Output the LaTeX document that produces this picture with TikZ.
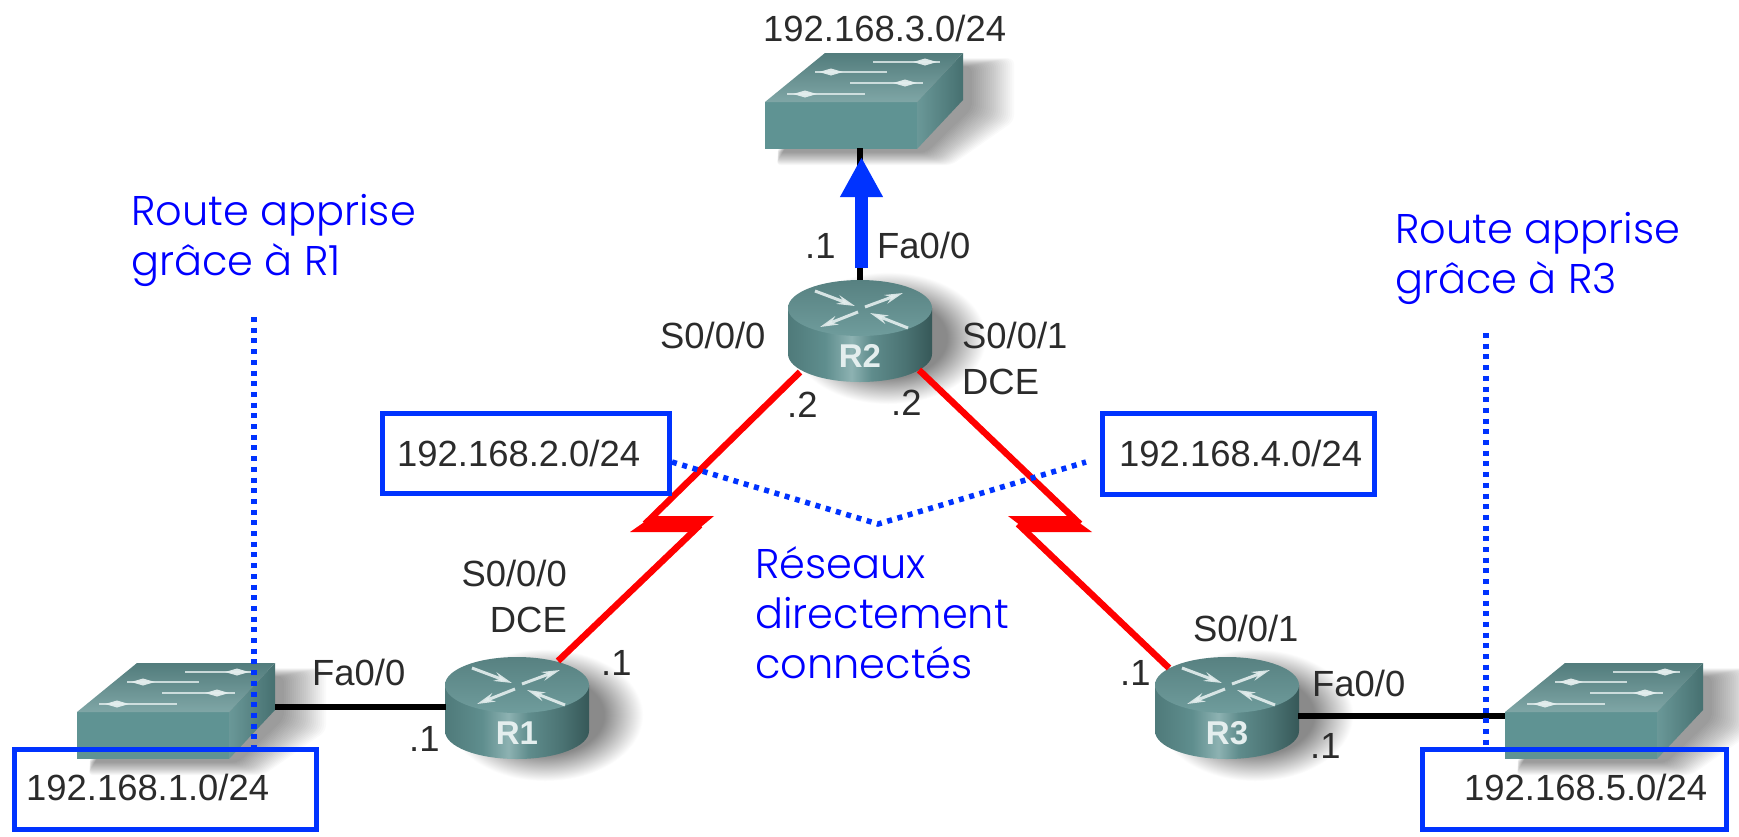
\documentclass[tikz,border=0pt]{standalone}
\usepackage{fontspec}
\setmainfont{Liberation Sans}
\newfontfamily\gothic{Poppins Light}
\usetikzlibrary{arrows.meta}
\definecolor{netblue}{HTML}{0033FF}
\definecolor{txtblue}{HTML}{0000FF}
\definecolor{netred}{HTML}{FF0000}
\definecolor{txtgray}{HTML}{2B2B2B}
\definecolor{swfront}{HTML}{5F9393}
\definecolor{swtopa}{HTML}{527C7C}
\definecolor{swtopb}{HTML}{7FA6A6}
\definecolor{swsidea}{HTML}{6A9898}
\definecolor{swsideb}{HTML}{467070}
\definecolor{rtopa}{HTML}{578181}
\definecolor{rtopb}{HTML}{6F9C9C}
\definecolor{glyph}{HTML}{E4EEEE}
\definecolor{rsa}{HTML}{4F7A7A}
\definecolor{rsb}{HTML}{5F8E8E}
\definecolor{rsc}{HTML}{8DB2B2}
\definecolor{rsd}{HTML}{5F8C8C}
\definecolor{rse}{HTML}{4A7272}
\definecolor{rsf}{HTML}{365858}
\definecolor{shadowc}{HTML}{8A8A8A}
\pgfdeclarehorizontalshading{routerside}{100bp}{
 color(0bp)=(rsa);color(25bp)=(rsa);color(38bp)=(rsb);
 color(47bp)=(rsc);color(54bp)=(rsd);color(66bp)=(rse);
 color(75bp)=(rsf);color(100bp)=(rsf)}
\pgfdeclareradialshading{softsh}{\pgfpoint{0bp}{0bp}}{
 color(0bp)=(shadowc);color(15bp)=(shadowc);color(25bp)=(white);color(50bp)=(white)}
\tikzset{
 x=1pt,y=-1pt,
 grayc/.style={anchor=base west,inner sep=0pt,text=txtgray,font=\fontsize{36.4}{46}\selectfont},
 bluec/.style={anchor=north west,inner sep=0pt,align=left,text=txtblue,font=\gothic\fontsize{41.5}{50}\selectfont},
 netbox/.style={draw=netblue,line width=5.5pt,inner sep=0pt,outer sep=0pt},
 dotline/.style={draw=netblue,line width=5.5pt,dash pattern=on 5pt off 5.7pt},
 wire/.style={draw=black,line width=5.5pt},
 serial/.style={draw=netred,line width=6.5pt},
 rlabel/.style={anchor=base,inner sep=0pt,text=glyph,font=\bfseries\fontsize{33}{33}\selectfont},
 rglyph/.style={draw=glyph,line width=3pt,opacity=.9,-{Stealth[length=18pt,width=9pt]}}
}
\newcommand\swglyph[3]{% x1, x2, y
 \draw[draw=glyph,line width=2.2pt,opacity=.8] (#1,#3) -- (#2,#3);
}
\newcommand\swhead[2]{%
 \fill[glyph,opacity=.95] (#1-12,#2) -- (#1,#2-3.5) -- (#1+12,#2) -- (#1,#2+3.5) -- cycle;
}
\newcommand\switchshadow[2]{%
 \begin{scope}[shift={(#1,#2)}]
 \foreach \r in {2,4,...,44}
  \fill[black,opacity=.018,rounded corners=6pt] (10,50+\r*.3) -- (160+\r*.6,50+\r*.3) -- (205+\r,6+\r*.3) -- (205+\r,-35-\r*.2) -- (185,-35-\r*.2) -- (30,30) -- cycle;
 \end{scope}}
\newcommand\switchdraw[3]{%
 \begin{scope}[shift={(#2,#3)}]
 \coordinate (#1) at (0,0);
 \fill[swfront] (0,0) rectangle (152,47);
 \shade[left color=swsidea,right color=swsideb] (152,0) -- (198,-49) -- (198,-2) -- (152,47) -- cycle;
 \shade[top color=swtopa,bottom color=swtopb] (0,0) -- (60,-49) -- (198,-49) -- (152,0) -- cycle;
 \swglyph{108}{175}{-40}\swhead{160}{-40}
 \swglyph{50}{122}{-30}\swhead{66}{-30}
 \swglyph{85}{158}{-19}\swhead{140}{-19}
 \swglyph{22}{100}{-8}\swhead{40}{-8}
 \end{scope}}
\newcommand\routershadow[2]{%
 \shade[shading=softsh] (#1+28,#2+30) ellipse [x radius=98,y radius=66];}
\newcommand\routerdraw[4]{%
 \begin{scope}[shift={(#2,#3)}]
 \shade[shading=routerside] (-72,0) -- (-72,46) .. controls (-72,61.5) and (-40,74) .. (0,74) .. controls (40,74) and (72,61.5) .. (72,46) -- (72,0) -- cycle;
 \shade[top color=rtopa,bottom color=rtopb] (0,0) ellipse [x radius=72,y radius=28];
 \draw[rglyph] (-45,-17) -- (-5,-2);
 \draw[rglyph] (5,-1) -- (43,-15);
 \draw[rglyph] (-2,4) -- (-40,19);
 \draw[rglyph] (48,20) -- (10,5);
 \node[rlabel] (#1) at (0,59) {#4};
 \end{scope}}
\begin{document}
\begin{tikzpicture}
\useasboundingbox (0,0) rectangle (1739,836);
\fill[white] (0,0) rectangle (1739,836);
% named ports
\coordinate (swTport) at (860,148);
\coordinate (r2top) at (860,280);
\coordinate (swLport) at (275,707);
\coordinate (r1west) at (446,707);
\coordinate (r3east) at (1298,716);
\coordinate (swRport) at (1505,716);
\coordinate (arrowfoot) at (861.5,268);
\coordinate (arrowtip) at (861.5,157);
\coordinate (r2sw) at (800,372);
\coordinate (r2se) at (919,370);
\coordinate (r1ne) at (558,661);
\coordinate (r3nw) at (1169,668);
\coordinate (zlA) at (645,524);
\coordinate (zlB) at (700,525);
\coordinate (zrA) at (1080,524);
\coordinate (zrB) at (1018,524);
% shadows
\routershadow{517}{685}
\routershadow{860}{308}
\routershadow{1227}{685}
\switchshadow{765}{102}
\switchshadow{77}{712}
\switchshadow{1505}{712}
% devices
\switchdraw{swT}{765}{102}
\switchdraw{swL}{77}{712}
\switchdraw{swR}{1505}{712}
\routerdraw{R1}{517}{685}{R1}
\routerdraw{R2}{860}{308}{R2}
\routerdraw{R3}{1227}{685}{R3}
\draw[wire] (swTport) -- (r2top);
\draw[wire] (swLport) -- (r1west);
\draw[wire] (r3east) -- (swRport);
% serial links
\draw[serial] (r2sw) -- (zlA);
\fill[netred] (653,516) -- (714,516) -- (695,532) -- (630,532) -- cycle;
\draw[serial] (zlB) -- (r1ne);
\draw[serial] (r2se) -- (zrA);
\fill[netred] (1008,516) -- (1070,516) -- (1092,532) -- (1029,532) -- cycle;
\draw[serial] (zrB) -- (r3nw);
% blue arrow
\draw[draw=netblue,line width=13pt,-{Triangle[width=40pt,length=40pt,sep=0pt]}] (arrowfoot) -- (arrowtip);
% boxes
\node[netbox,minimum width=302pt,minimum height=80pt,anchor=north west] (boxL) at (14.5,749.5) {};
\node[netbox,minimum width=304pt,minimum height=80pt,anchor=north west] (boxR) at (1422.5,749.5) {};
\node[netbox,minimum width=287pt,minimum height=80pt,anchor=north west] (boxA) at (382.5,413.5) {};
\node[netbox,minimum width=272pt,minimum height=81pt,anchor=north west] (boxB) at (1102.5,413.5) {};
% dotted leaders
\coordinate (dotL) at (254,317);
\coordinate (dotLend) at (254,747);
\coordinate (dotR) at (1486,333);
\coordinate (dotRend) at (1486,747);
\coordinate (apex) at (878,524);
\coordinate (boxAport) at (672,462);
\coordinate (boxBport) at (1086,462);
\draw[dotline] (dotL) -- (dotLend);
\draw[dotline] (dotR) -- (dotRend);
\draw[dotline] (boxAport) -- (apex) -- (boxBport);
% network labels
\node[grayc] (n3) at (763,41) {192.168.3.0/24};
\node[grayc] (n1) at (26,800) {192.168.1.0/24};
\node[grayc] (n5) at (1464,800) {192.168.5.0/24};
\node[grayc] (n2) at (397,466) {192.168.2.0/24};
\node[grayc] (n4) at (1119,466) {192.168.4.0/24};
% interface labels
\node[grayc] (t1) at (877,258) {Fa0/0};
\node[grayc] (t2) at (805,258) {.1};
\node[grayc] (t3) at (660,348) {S0/0/0};
\node[grayc,anchor=north west,align=left] (t4) at (962,322) {S0/0/1\\DCE};
\node[grayc] (t5) at (787,417) {.2};
\node[grayc] (t6) at (891,415) {.2};
\node[grayc,anchor=north east,align=right] (t7) at (567,560) {S0/0/0\\DCE};
\node[grayc] (t8) at (601,675) {.1};
\node[grayc] (t9) at (312,685) {Fa0/0};
\node[grayc] (t10) at (409,751) {.1};
\node[grayc] (t11) at (1193,641) {S0/0/1};
\node[grayc] (t12) at (1120,685) {.1};
\node[grayc] (t13) at (1312,696) {Fa0/0};
\node[grayc] (t14) at (1310,758) {.1};
% blue captions
\node[bluec] (c1) at (131,194) {Route apprise\\grâce à R1};
\node[bluec] (c2) at (1395,212) {Route apprise\\grâce à R3};
\node[bluec] (c3) at (755,546) {Réseaux\\directement\\connectés};
\end{tikzpicture}
\end{document}
